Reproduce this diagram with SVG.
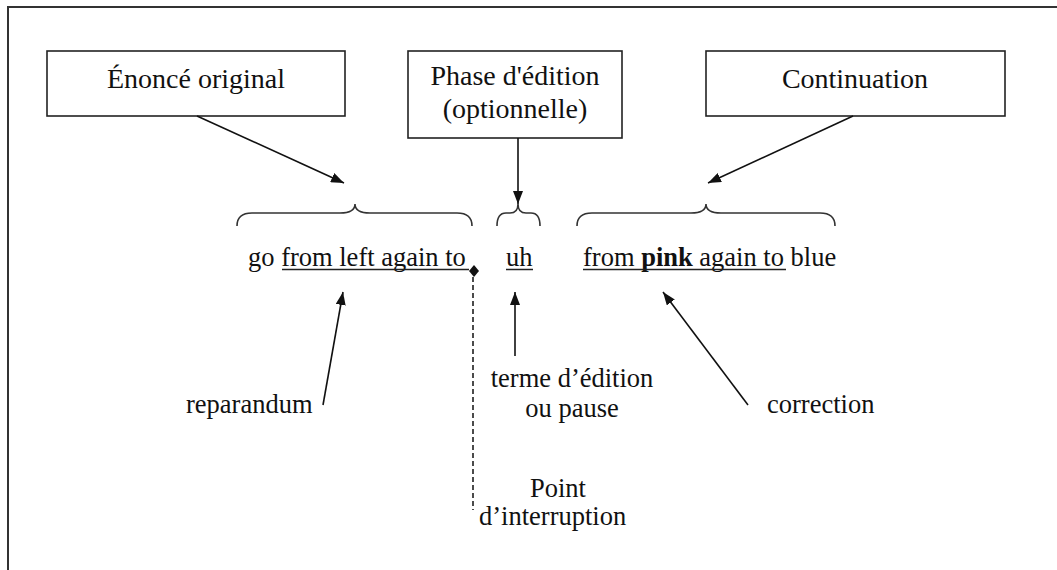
<svg xmlns="http://www.w3.org/2000/svg" width="1057" height="570" viewBox="0 0 1057 570">
<style>
.bg{fill:#fff}
.frame{fill:none;stroke:#333;stroke-width:2}
.box{fill:#fff;stroke:#222;stroke-width:1.6}
.bt{font-family:"Liberation Serif","Times New Roman",serif;font-size:28px;fill:#111;text-anchor:middle}
.t{font-family:"Liberation Serif","Times New Roman",serif;font-size:26.5px;fill:#111}
.b{font-weight:bold}
.ul{stroke:#222;stroke-width:1.5}
.brace{fill:none;stroke:#333;stroke-width:1.6}
.arrow{fill:none;stroke:#111;stroke-width:1.6;marker-end:url(#ah)}
.dash{stroke:#111;stroke-width:1.5;stroke-dasharray:5,3}
</style>
<defs>
<marker id="ah" markerUnits="userSpaceOnUse" markerWidth="14" markerHeight="10" refX="13" refY="5" orient="auto">
<path d="M0,0 L13,5 L0,10 z" fill="#111"/>
</marker>
</defs>
<rect class="bg" x="0" y="0" width="1057" height="570"/>
<rect class="frame" x="8" y="7" width="1100" height="620"/>

<g id="node-enonce">
<rect class="box" x="47" y="51" width="298" height="65"/>
<text class="bt" x="196" y="88">Énoncé original</text>
</g>
<g id="node-phase">
<rect class="box" x="408" y="51" width="214" height="87"/>
<text class="bt" x="515" y="85">Phase d'édition</text>
<text class="bt" x="515" y="118">(optionnelle)</text>
</g>
<g id="node-continuation">
<rect class="box" x="706" y="51" width="299" height="65"/>
<text class="bt" x="855" y="88">Continuation</text>
</g>

<g id="node-utterance">
<path class="brace" d="M237,226 Q237,213 252,213 L340,213 Q355,213 355,204 Q355,213 370,213 L457,213 Q472,213 472,226"/>
<path class="brace" d="M497,226 Q497,213 506,213 L510,213 Q518,213 518,204 Q518,213 526,213 L531,213 Q540,213 540,226"/>
<path class="brace" d="M577,226 Q577,213 592,213 L691,213 Q706,213 706,204 Q706,213 721,213 L820,213 Q835,213 835,226"/>
<text class="t" x="248" y="266">go from left again to</text>
<line class="ul" x1="282" y1="269.5" x2="469" y2="269.5"/>
<text class="t" x="506" y="266">uh</text>
<line class="ul" x1="506" y1="269.5" x2="533" y2="269.5"/>
<text class="t" x="583" y="266">from <tspan class="b">pink</tspan> again to blue</text>
<line class="ul" x1="583" y1="269.5" x2="786" y2="269.5"/>
</g>

<g id="node-breakpoint">
<path d="M474,265 L479,271 L474,277 L469,271 z" fill="#111"/>
</g>

<g id="node-reparandum">
<text class="t" x="186" y="413">reparandum</text>
</g>
<g id="node-terme">
<text class="t" x="572" y="387" text-anchor="middle">terme d’édition</text>
<text class="t" x="572" y="417" text-anchor="middle">ou pause</text>
</g>
<g id="node-correction">
<text class="t" x="767" y="413">correction</text>
</g>
<g id="node-point">
<text class="t" x="530" y="497">Point</text>
<text class="t" x="479" y="525">d’interruption</text>
</g>

<g id="connectors">
<line class="arrow" x1="197" y1="116" x2="344" y2="183"/>
<line class="arrow" x1="518" y1="138" x2="518" y2="204"/>
<line class="arrow" x1="853" y1="116" x2="708" y2="183"/>
<line class="arrow" x1="323" y1="405" x2="343" y2="292"/>
<line class="arrow" x1="515" y1="356" x2="515" y2="292"/>
<line class="arrow" x1="748" y1="405" x2="663" y2="292"/>
<line class="dash" x1="473" y1="277" x2="473" y2="510"/>
</g>
</svg>
